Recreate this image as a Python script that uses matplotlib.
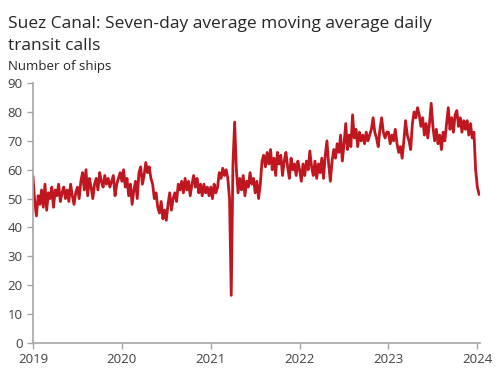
import matplotlib.pyplot as plt
import numpy as np

# weekly readings of the seven-day average (number of ships), one list per year
y2019 = [57.5, 49, 44, 51, 48, 53, 47, 55, 46, 52, 50, 54, 47, 53, 51, 55, 49, 52, 54, 50,
         53, 49, 55, 51, 48, 52, 54, 50, 56, 59, 53, 60, 51, 57, 54, 50, 55, 57, 53, 59,
         56, 54, 58, 55, 57, 54, 56, 58, 51, 55, 57, 59]
y2020 = [56, 60, 54, 57, 51, 55, 48, 53, 56, 50, 59, 61, 55, 58, 62.5, 59, 61, 57, 55, 50,
         52, 47, 45, 49, 43, 46, 42.5, 48, 52, 46, 50, 52, 49, 55, 53, 56, 52, 57, 53, 56,
         51, 55, 58, 54, 57, 52, 55, 51, 55, 52, 54, 51]
y2021 = [54, 50, 55, 52, 54, 59, 57, 60.5, 58, 60, 57, 50, 16.5, 62, 76.5, 60, 52, 57, 53, 58,
         51, 56, 54, 59, 55, 57, 52, 56, 50, 55, 63, 65, 61, 66, 62, 67, 60, 64, 58, 66,
         62, 65, 58, 63, 66, 61, 57, 64, 60, 62, 58, 63]
y2022 = [60, 56, 62, 58, 63, 60, 66.5, 61, 58, 63, 57, 62, 59, 64, 57, 65, 70, 62, 56, 63,
         67, 64, 69, 66, 72, 63, 69, 76, 67, 72, 68, 79, 71, 74, 68, 73, 70, 72, 69, 73,
         70, 72, 74, 78, 73, 71, 68, 74, 78, 73, 71, 73]
y2023 = [73, 69, 72, 70, 74, 69, 66, 68, 64, 70, 77, 72, 70, 67, 76, 80, 78, 81.5, 79, 75,
         78, 72, 76, 71, 76, 83, 75, 70, 74, 69, 72, 67, 73, 70, 76, 81.5, 74, 78, 73, 79,
         80.5, 75, 78, 73, 77, 74, 77, 72, 76, 71, 73, 60]
y2024 = [54, 51.5]

years = [2019, 2020, 2021, 2022, 2023, 2024]
series = [y2019, y2020, y2021, y2022, y2023, y2024]

t = []
v = []
for yr, vals in zip(years, series):
    for w, val in enumerate(vals):
        t.append(yr + w / 52.0)
        v.append(val)
t = np.array(t)
v = np.array(v)

plt.rcParams['font.family'] = ['Open Sans', 'DejaVu Sans']

fig = plt.figure(figsize=(5, 3.92), dpi=100)
ax = fig.add_axes([0.066, 0.125, 0.894, 0.663])

ax.plot(t, v, color='#C0161F', linewidth=2.0)

ax.set_xlim(2019, 2024.03)
ax.set_ylim(0, 90)
ax.set_xticks(years)
ax.set_xticklabels([str(y) for y in years])
ax.set_yticks(range(0, 91, 10))

for s in ['top', 'right']:
    ax.spines[s].set_visible(False)
for s in ['left', 'bottom']:
    ax.spines[s].set_color('#A6A6A6')
    ax.spines[s].set_linewidth(1.2)
ax.tick_params(axis='both', colors='#A6A6A6', labelcolor='#404040', labelsize=9.5, length=4, width=1)

fig.text(0.016, 1 - 28 / 392, "Suez Canal: Seven-day average moving average daily",
         fontsize=12.5, color='#262626', va='baseline', ha='left')
fig.text(0.016, 1 - 50 / 392, "transit calls",
         fontsize=12.5, color='#262626', va='baseline', ha='left')
fig.text(0.016, 1 - 70 / 392, "Number of ships", fontsize=9.5, color='#262626',
         ha='left', va='baseline')

plt.savefig('out.png', dpi=100)
